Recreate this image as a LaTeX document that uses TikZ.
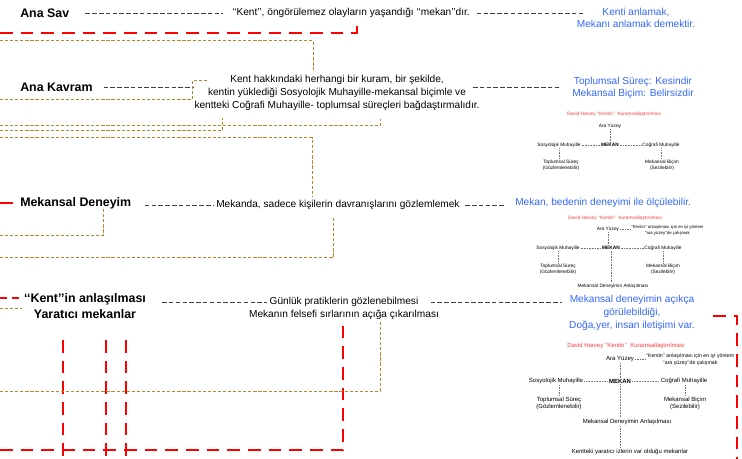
\documentclass[tikz,border=0pt]{standalone}
\usepackage{fontspec}
\setmainfont{Liberation Sans}
\usepackage{xcolor}
\usetikzlibrary{positioning}

\definecolor{claimblue}{HTML}{3366FF}
\definecolor{ochrecol}{HTML}{B8862B}
\definecolor{titlered}{HTML}{FF3838}

\begin{document}
\begin{tikzpicture}[x=0.75pt, y=-0.75pt,
    head/.style={font=\fontsize{9.3}{12}\selectfont\bfseries, inner sep=0pt, align=center},
    txt/.style={font=\fontsize{7.6}{9.75}\selectfont, inner sep=0pt, align=center},
    claim/.style={font=\fontsize{7.6}{9.2}\selectfont, text=claimblue, inner sep=0pt, align=center},
    hv/.style={font=\fontsize{3.6}{4.6}\selectfont, inner sep=0.6pt, align=center},
    hvbig/.style={font=\fontsize{4.5}{5.4}\selectfont, inner sep=0.8pt, align=center},
    link/.style={draw=black!75, line width=0.7pt, dash pattern=on 3.4pt off 1.7pt},
    redline/.style={draw=red, line width=2pt, dash pattern=on 9.5pt off 6pt},
    ochreline/.style={draw=ochrecol, line width=0.75pt, dash pattern=on 2.4pt off 1.4pt},
    dots/.style={draw=black!55, line width=0.3pt, dash pattern=on 0.4pt off 0.8pt}]

\useasboundingbox (0,0) rectangle (742,459);

% Ana Sav
\node[head, anchor=west] (sav) at (20,13) {Ana Sav};
\node[txt, anchor=west] (savtxt) at (232,13) {‘‘Kent’’, öngörülemez olayların yaşandığı ‘‘mekan’’dır.};
\node[claim] (savclaim) at (636,18) {Kenti anlamak,\\Mekanı anlamak demektir.};

\draw[link, shorten <=12pt, shorten >=7pt] (sav.east) -- (savtxt.west);
\draw[link, shorten <=5pt, shorten >=-5pt] (savtxt.east) -- (savtxt.east -| savclaim.west);

% Ana Kavram
\node[head, anchor=west] (kavram) at (20,87) {Ana Kavram};
\node[txt] (kavramtxt) at (337,93) {Kent hakkındaki herhangi bir kuram, bir şekilde,\\kentin yüklediği Sosyolojik Muhayille-mekansal biçimle ve\\kentteki Coğrafi Muhayille- toplumsal süreçleri bağdaştırmalıdır.};
\node[claim] (kavramclaim) at (633,88) {Toplumsal Süreç: Kesindir\\Mekansal Biçim: Belirsizdir};

\draw[link, shorten <=8pt] (kavram.east) -- (kavram.east -| kavramtxt.west);
\draw[link, shorten <=-5pt, shorten >=9.5pt] (kavram -| kavramtxt.east) -- (kavram -| kavramclaim.west);

% Mekansal Deneyim
\node[head, anchor=west] (den) at (20,203) {Mekansal Deneyim};
\node[txt, anchor=west] (dentxt) at (216,205) {Mekanda, sadece kişilerin davranışlarını gözlemlemek};
\node[claim, anchor=west] (denclaim) at (515,203) {Mekan, bedenin deneyimi ile ölçülebilir.};

\draw[link, shorten <=10pt, shorten >=2pt] (dentxt -| den.east) -- (dentxt.west);
\draw[link, shorten <=4pt, shorten >=7.5pt] (dentxt.east) -- (dentxt -| denclaim.west);

% Kent'in anlasilmasi
\node[head] (kent) at (85,306) {‘‘Kent’’in anlaşılması\\Yaratıcı mekanlar};
\node[txt] (prat) at (344,302) {Günlük pratiklerin gözlenebilmesi};
\node[txt, below=2.2pt of prat] (sir) {Mekanın felsefi sırlarının açığa çıkarılması};
\node[claim, font=\fontsize{7.6}{9.75}\selectfont] (kentclaim) at (632,313) {Mekansal deneyimin açıkça\\görülebildiği,\\Doğa,yer, insan iletişimi var.};

\draw[link, shorten <=12pt, shorten >=2pt] (prat -| kent.east) -- (prat.west);
\draw[link, shorten <=9pt, shorten >=5pt] (prat.east) -- (prat -| kentclaim.west);

% red frames
\draw[redline] (0,33) -- (357,33) -- (357,22);
\draw[redline] (0,203) -- (den.west);
\draw[redline, dash pattern=on 5pt off 4pt] (0,298) -- (23,298);
\draw[redline] (0,450) -- (343,450) -- (343,323);
\draw[redline] (63,340) -- (63,459);
\draw[redline] (106,340) -- (106,459);
\draw[redline] (126,340) -- (126,459);
\draw[redline] (713,316) -- (737,316) -- (737,459);

% ochre frames
\draw[ochreline] (0,41) -- (313,41) -- (313,70);
\draw[ochreline] (0,100) -- (192,100) -- (192,81) -- (207,81);
\draw[ochreline] (0,126) -- (380,126) -- (380,119);
\draw[ochreline] (0,131) -- (222,131) -- (222,118);
\draw[ochreline] (0,138) -- (312,138) -- (312,196);
\draw[ochreline] (0,236) -- (103,236) -- (103,208);
\draw[ochreline] (0,258) -- (333,258) -- (333,218);
\draw[ochreline] (0,309) -- (22,309);
\draw[ochreline] (0,391) -- (380,391) -- (380,322);

% Harvey 1
\node[hv, text=titlered] (t1) at (614,114) {David Harvey ‘‘Kentin’’~ Kuramsallaştırılması};
\node[hv] (ara1) at (610,126) {Ara Yüzey};
\node[hv, font=\fontsize{3.6}{4.6}\selectfont\bfseries] (mek1) at (610,145) {MEKAN};
\node[hv] (sos1) at (559,145) {Sosyolojik Muhayille};
\node[hv] (cog1) at (661,145) {Coğrafi Muhayille};
\node[hv] (top1) at (561,165) {Toplumsal Süreç\\(Gözlemlenebilir)};
\node[hv] (bic1) at (662,165) {Mekansal Biçim\\(Sezilebilir)};

\draw[dots] (ara1) -- (mek1);
\draw[dots] (sos1) -- (mek1);
\draw[dots] (mek1) -- (cog1);
\draw[dots] (sos1.south) -- (sos1.south |- top1.north);
\draw[dots] (cog1.south) -- (cog1.south |- bic1.north);

% Harvey 2
\node[hv, text=titlered] (t2) at (615,218) {David Harvey ‘‘Kentin’’~ Kuramsallaştırılması};
\node[hv] (ara2) at (608,229) {Ara Yüzey};
\node[hv, anchor=west, font=\fontsize{3.2}{4.2}\selectfont] (note2) at (630,230.5) {‘‘Kentin’’ anlaşılması için en iyi yöntem\\‘‘ara yüzey’’de çalışmak};
\node[hv, font=\fontsize{3.6}{4.6}\selectfont\bfseries] (mek2) at (611,248) {MEKAN};
\node[hv] (sos2) at (558,248) {Sosyolojik Muhayille};
\node[hv] (cog2) at (663,248) {Coğrafi Muhayille};
\node[hv] (top2) at (558,269) {Toplumsal Süreç\\(Gözlemlenebilir)};
\node[hv] (bic2) at (663,269) {Mekansal Biçim\\(Sezilebilir)};
\node[hv] (md2) at (613,286) {Mekansal Deneyimin Anlaşılması};

\draw[dots] (ara2) -- (ara2 |- mek2.north);
\draw[dots] (ara2.east) -- (ara2.east -| note2.west);
\draw[dots] (sos2) -- (mek2);
\draw[dots] (mek2) -- (cog2);
\draw[dots] (sos2) -- (top2);
\draw[dots] (cog2) -- (bic2);
\draw[dots] (mek2) -- (mek2 |- md2.north);

% Harvey 3
\node[hvbig, text=titlered] (t3) at (626,346) {David Harvey ‘‘Kentin’’~ Kuramsallaştırılması};
\node[hvbig] (ara3) at (620,359) {Ara Yüzey};
\node[hv, font=\fontsize{3.9}{5.4}\selectfont] (note3) at (690,360) {‘‘Kentin’’ anlaşılması için en iyi yöntem\\‘‘ara yüzey’’de çalışmak};
\node[hvbig, font=\fontsize{4.5}{5.4}\selectfont\bfseries] (mek3) at (620,381) {MEKAN};
\node[hvbig] (sos3) at (556,381) {Sosyolojik Muhayille};
\node[hvbig] (cog3) at (684,381) {Coğrafi Muhayille};
\node[hvbig] (top3) at (559,403.5) {Toplumsal Süreç\\(Gözlemlenebilir)};
\node[hvbig] (bic3) at (685,403.5) {Mekansal Biçim\\(Sezilebilir)};
\node[hvbig] (md3) at (627,422) {Mekansal Deneyimin Anlaşılması};
\node[hvbig] (kyz3) at (630,452) {Kentteki yaratıcı izlerin var olduğu mekanlar};

\draw[dots] (ara3) -- (mek3);
\draw[dots] (ara3.east) -- (ara3.east -| note3.west);
\draw[dots] (sos3) -- (mek3);
\draw[dots] (mek3) -- (cog3);
\draw[dots] (sos3.south -| top3) -- (top3.north);
\draw[dots] (cog3.south -| bic3) -- (bic3.north);
\draw[dots] (mek3) -- (mek3 |- md3.north);
\draw[dots] (md3.south -| mek3) -- (mek3 |- kyz3.north);

\end{tikzpicture}
\end{document}
